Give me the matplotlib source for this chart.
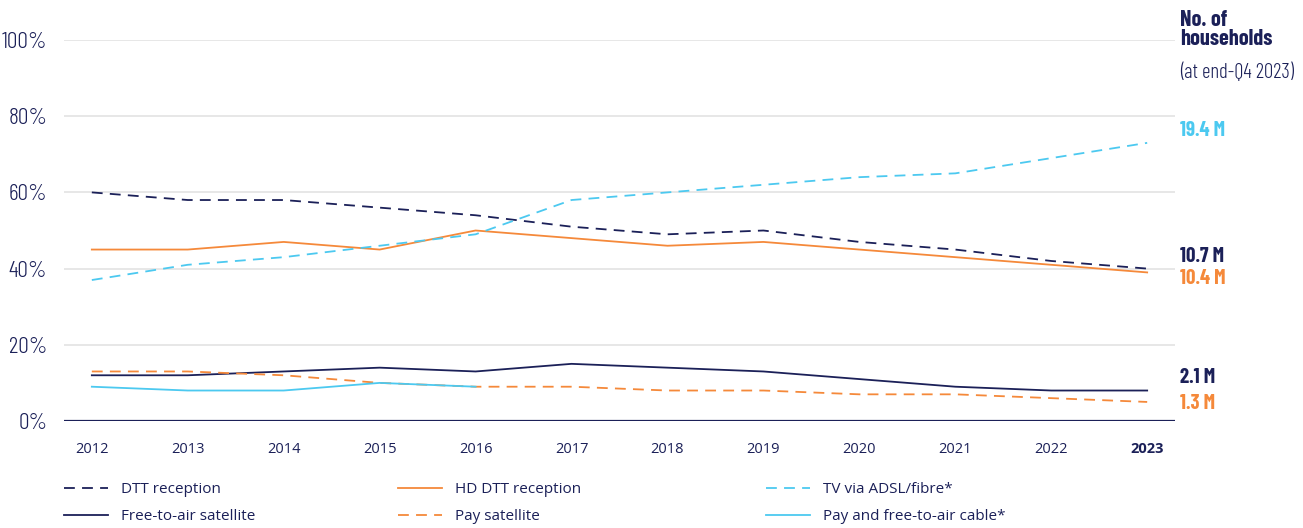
import matplotlib
matplotlib.use("Agg")
import matplotlib.pyplot as plt

years = [2012, 2013, 2014, 2015, 2016, 2017, 2018, 2019, 2020, 2021, 2022, 2023]
dtt = [60, 58, 58, 56, 54, 51, 49, 50, 47, 45, 42, 40]
hd_dtt = [45, 45, 47, 45, 50, 48, 46, 47, 45, 43, 41, 39]
adsl = [37, 41, 43, 46, 49, 58, 60, 62, 64, 65, 69, 73]
fta_sat = [12, 12, 13, 14, 13, 15, 14, 13, 11, 9, 8, 8]
pay_sat = [13, 13, 12, 10, 9, 9, 8, 8, 7, 7, 6, 5]
cable_years = [2012, 2013, 2014, 2015, 2016]
cable = [9, 8, 8, 10, 9]

end_labels = ["19.4 M", "10.7 M", "10.4 M", "2.1 M", "1.3 M"]
yticks = [0, 20, 40, 60, 80, 100]

NAVY = "#1b2058"
ORANGE = "#f5893a"
CYAN = "#4cc9f0"
GRID = "#e3e3e3"
COND = ["Barlow Condensed", "Roboto Condensed", "DejaVu Sans"]
SANS = ["Open Sans", "Noto Sans", "DejaVu Sans"]

fig = plt.figure(figsize=(13.03, 5.28), dpi=100)
W, H = 1303, 528
ax = fig.add_axes([64 / W, (H - 421) / H, (1175 - 64) / W, (421 - 40) / H])

dash = (6, 4)
ax.plot(years, dtt, color=NAVY, lw=1.3, dashes=dash, label="DTT reception")
ax.plot(years, fta_sat, color=NAVY, lw=1.3, label="Free-to-air satellite")
ax.plot(years, hd_dtt, color=ORANGE, lw=1.3, label="HD DTT reception")
ax.plot(years, pay_sat, color=ORANGE, lw=1.3, dashes=dash, label="Pay satellite")
ax.plot(years, adsl, color=CYAN, lw=1.3, dashes=dash, label="TV via ADSL/fibre*")
ax.plot(cable_years, cable, color=CYAN, lw=1.3, label="Pay and free-to-air cable*")

ax.set_xlim(2011.71, 2023.29)
ax.set_ylim(0, 100)
for s in ax.spines.values():
    s.set_visible(False)
ax.axhline(0, color=NAVY, lw=1.6, zorder=5)
ax.set_yticks(yticks)
ax.yaxis.grid(True, color=GRID, lw=1.2)
ax.set_axisbelow(True)
ax.tick_params(length=0)
ax.set_yticklabels([f"{v}%" for v in yticks], family=COND, fontweight=300, fontsize=17, color=NAVY)
ax.tick_params(axis="y", pad=12)
ax.set_xticks(years)
xl = ax.set_xticklabels([str(y) for y in years], family=SANS, fontsize=10.5, color=NAVY)
xl[-1].set_fontweight("bold")
ax.tick_params(axis="x", pad=15)

# right-hand annotations
ax.text(1.0045, 1.08, "No. of\nhouseholds", transform=ax.transAxes, family=COND,
        fontweight="bold", fontsize=16, color=NAVY, va="top", ha="left", linespacing=0.95)
ax.text(1.0045, 0.916, "(at end-Q4 2023)", transform=ax.transAxes, family=COND,
        fontweight=300, fontsize=15, color=NAVY, va="center", ha="left")
label_y = [76.2, 43.2, 37.3, 11.3, 4.5]
label_c = [CYAN, NAVY, ORANGE, NAVY, ORANGE]
for txt, yy, c in zip(end_labels, label_y, label_c):
    ax.text(1.0045, yy, txt, transform=ax.get_yaxis_transform(), family=COND,
            fontweight="bold", fontsize=15, color=c, va="center", ha="left")

handles, labels = ax.get_legend_handles_labels()
col_x = [64, 398, 766]
for i, x0 in enumerate(col_x):
    fig.legend(handles[2 * i:2 * i + 2], labels[2 * i:2 * i + 2], loc="upper left",
               bbox_to_anchor=(x0 / W, 1 - 482 / H), frameon=False, borderpad=0,
               borderaxespad=0, handlelength=2.9, handletextpad=0.85, labelspacing=0.8,
               prop={"family": SANS, "size": 11}, labelcolor=NAVY)

fig.savefig("out.png", dpi=100)
